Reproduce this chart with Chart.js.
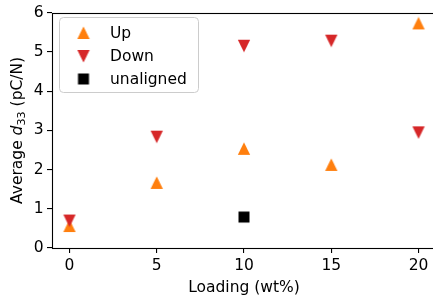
<!DOCTYPE html>
<html><head><meta charset="utf-8">
<script src="https://cdn.jsdelivr.net/npm/chart.js@4"></script>
<style>
html,body{margin:0;padding:0;overflow:hidden;background:#fff;width:433px;height:302px}
#wrap{position:absolute;left:0;top:0;width:438px;height:302px}
canvas{display:block}
</style>
</head><body><div id="wrap"><canvas id="c" width="438" height="302" style="width:438px;height:302px"></canvas></div>
<script>
// ---- data ----
const loading = [0, 5, 10, 15, 20];
const upValues = [0.56, 1.66, 2.53, 2.12, 5.73];
const downValues = [0.70, 2.84, 5.16, 5.29, 2.95];
const unalignedX = [10];
const unalignedValues = [0.79];
const xTicks = [0, 5, 10, 15, 20];
const yTicks = [0, 1, 2, 3, 4, 5, 6];
const seriesLabels = ['Up', 'Down', 'unaligned'];
const seriesColors = ['#ff7f0e', '#d62728', '#000000'];
const xTitle = 'Loading (wt%)';

const FONT = 'DejaVu Sans';
const FS = 15.5;

function markerCanvas(kind, color) {
  const s = 14;
  const c = document.createElement('canvas');
  c.width = s; c.height = s;
  const g = c.getContext('2d');
  g.fillStyle = color;
  g.beginPath();
  if (kind === 'up') {
    g.moveTo(7, 0.5); g.lineTo(13.2, 13); g.lineTo(0.8, 13);
  } else if (kind === 'down') {
    g.moveTo(0.8, 1); g.lineTo(13.2, 1); g.lineTo(7, 13.5);
  } else {
    g.rect(1.5, 1.5, 11, 11);
  }
  g.closePath();
  g.fill();
  return c;
}
const markers = [markerCanvas('up', seriesColors[0]), markerCanvas('down', seriesColors[1]), markerCanvas('sq', seriesColors[2])];

const pts = (xs, ys) => xs.map((x, i) => ({x: x, y: ys[i]}));

const frame = {
  id: 'frame',
  afterDatasetsDraw(chart) {
    const {ctx, chartArea: a} = chart;
    ctx.save();
    ctx.strokeStyle = '#000';
    ctx.lineWidth = 1.1;
    ctx.strokeRect(Math.round(a.left) + 0.5, Math.round(a.top) + 0.5, Math.round(a.right - a.left), Math.round(a.bottom - a.top));
    ctx.restore();
  }
};

const legendBox = {
  id: 'legendBox',
  afterDraw(chart) {
    const ctx = chart.ctx;
    ctx.save();
    const x = 59.5, y = 17.5, w = 139, h = 75, r = 4;
    ctx.beginPath();
    ctx.moveTo(x + r, y);
    ctx.arcTo(x + w, y, x + w, y + h, r);
    ctx.arcTo(x + w, y + h, x, y + h, r);
    ctx.arcTo(x, y + h, x, y, r);
    ctx.arcTo(x, y, x + w, y, r);
    ctx.closePath();
    ctx.fillStyle = 'rgba(255,255,255,0.8)';
    ctx.fill();
    ctx.strokeStyle = '#cccccc';
    ctx.lineWidth = 1;
    ctx.stroke();
    ctx.font = FS + 'px "' + FONT + '"';
    ctx.fillStyle = '#000';
    ctx.textAlign = 'left';
    ctx.textBaseline = 'alphabetic';
    const base = [37.5, 60.5, 83.5];
    seriesLabels.forEach((lab, i) => {
      const m = markers[i];
      ctx.drawImage(m, 83.5 - m.width / 2, base[i] - 4.5 - m.height / 2);
      ctx.fillText(lab, 110, base[i]);
    });
    ctx.restore();
  }
};

const yTitle = {
  id: 'yTitle',
  afterDraw(chart) {
    const ctx = chart.ctx;
    const a = chart.chartArea;
    const parts = [
      {t: 'Average ', f: FS + 'px "' + FONT + '"', dy: 0},
      {t: 'd', f: 'oblique ' + FS + 'px "' + FONT + '"', dy: 0},
      {t: '33', f: (FS * 0.72) + 'px "' + FONT + '"', dy: 3},
      {t: ' (pC/N)', f: FS + 'px "' + FONT + '"', dy: 0}
    ];
    ctx.save();
    let total = 0;
    parts.forEach(p => { ctx.font = p.f; p.w = ctx.measureText(p.t).width; total += p.w; });
    ctx.translate(21.5, (a.top + a.bottom) / 2);
    ctx.rotate(-Math.PI / 2);
    ctx.fillStyle = '#000';
    ctx.textBaseline = 'alphabetic';
    ctx.textAlign = 'left';
    let cx = -total / 2;
    parts.forEach(p => { ctx.font = p.f; ctx.fillText(p.t, cx, p.dy); cx += p.w; });
    ctx.restore();
  }
};

new Chart(document.getElementById('c'), {
  type: 'scatter',
  data: {
    datasets: [
      {label: seriesLabels[0], data: pts(loading, upValues), pointStyle: markers[0], backgroundColor: seriesColors[0], order: 3},
      {label: seriesLabels[1], data: pts(loading, downValues), pointStyle: markers[1], backgroundColor: seriesColors[1], order: 2},
      {label: seriesLabels[2], data: pts(unalignedX, unalignedValues), pointStyle: markers[2], backgroundColor: seriesColors[2], order: 1}
    ]
  },
  options: {
    responsive: false,
    animation: false,
    devicePixelRatio: 1,
    layout: {autoPadding: false, padding: {top: 10, right: 2, left: 0, bottom: 0}},
    plugins: {legend: {display: false}, tooltip: {enabled: false}},
    scales: {
      x: {
        type: 'linear', min: -1, max: 21,
        afterBuildTicks: s => { s.ticks = xTicks.map(v => ({value: v})); },
        afterFit: s => { s.height = 54; },
        grid: {drawOnChartArea: false, drawTicks: true, tickLength: 5, tickColor: '#000', lineWidth: 1.1},
        border: {display: false},
        ticks: {color: '#000', font: {family: FONT, size: FS}, padding: 4, maxRotation: 0, autoSkip: false},
        title: {display: true, text: xTitle, color: '#000', font: {family: FONT, size: FS}, padding: {top: 0, bottom: 5}}
      },
      y: {
        type: 'linear', min: 0, max: 6,
        afterBuildTicks: s => { s.ticks = yTicks.map(v => ({value: v})); },
        afterFit: s => { s.width = 52; },
        grid: {drawOnChartArea: false, drawTicks: true, tickLength: 5, tickColor: '#000', lineWidth: 1.1},
        border: {display: false},
        ticks: {color: '#000', font: {family: FONT, size: FS}, padding: 3.5, autoSkip: false}
      }
    }
  },
  plugins: [frame, legendBox, yTitle]
});
</script>
</body></html>
